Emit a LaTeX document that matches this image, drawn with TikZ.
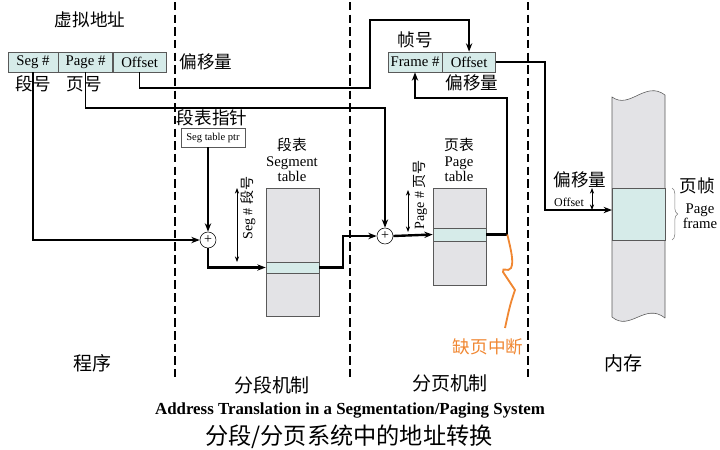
\documentclass[tikz,border=0pt]{standalone}
\usepackage{fontspec}
\setmainfont{Liberation Serif}
\newfontfamily\cjk{Noto Sans CJK SC}
\usetikzlibrary{positioning, arrows.meta, decorations.pathreplacing}

\definecolor{cellcyan}{RGB}{214,235,233}
\definecolor{tablegray}{RGB}{227,227,230}
\definecolor{faultorange}{RGB}{240,135,50}

\tikzset{
  cell/.style={draw=gray!70!black, fill=cellcyan, minimum height=0.5cm, inner sep=0pt, font=\fontsize{10.5}{11}\selectfont},
  tablebox/.style={draw=gray!70!black, fill=tablegray, minimum width=1.325cm, inner sep=0pt},
  rowbox/.style={draw=gray!70!black, fill=cellcyan, minimum width=1.325cm, inner sep=0pt},
  adder/.style={circle, draw, fill=white, minimum size=0.4cm, inner sep=0pt, font=\fontsize{10}{10}\selectfont},
  zh/.style={font=\cjk\fontsize{12.5}{13}\selectfont, inner sep=1pt},
  stage/.style={font=\cjk\fontsize{13.5}{14}\selectfont, inner sep=1pt},
  en/.style={font=\fontsize{10.5}{11}\selectfont, align=center, inner sep=1pt},
  divider/.style={line width=1.4pt, dash pattern=on 6pt off 3pt},
  link/.style={-{Stealth[length=6pt,width=4.5pt]}, line width=0.9pt},
  thicklink/.style={link, line width=1.7pt},
  span/.style={{Stealth[length=4pt,width=3pt]}-{Stealth[length=4pt,width=3pt]}, line width=0.5pt},
}

\begin{document}
\begin{tikzpicture}[x=0.025cm, y=-0.025cm]
  \useasboundingbox (0,0) rectangle (720,449);
  % stage dividers
  \draw[divider] (175,2) -- (175,380);
  \draw[divider] (350,2) -- (350,380);
  \draw[divider] (528,2) -- (528,380);

  % virtual address
  \node[zh] (vaddr) at (90,20) {虚拟地址};
  \node[cell, minimum width=1.25cm] (seg) at (33,62) {Seg \#};
  \node[cell, minimum width=1.35cm, right=0pt of seg] (page) {Page \#};
  \node[cell, minimum width=1.325cm, right=0pt of page] (off) {Offset};
  \node[zh] (segno) at (33,84) {段号};
  \node[zh] (pageno) at (84,84) {页号};
  \node[zh] (offlbl) at (206,62) {偏移量};

  % segmentation
  \node[zh] (ptrlbl) at (212,118) {段表指针};
  \node[draw=gray!70!black, fill=white, minimum width=1.6cm, minimum height=0.475cm, inner sep=0pt, font=\fontsize{7.5}{8}\selectfont] (ptr) at (213,137.5) {Seg table ptr};
  \node[adder] (sum1) at (208,240) {+};
  \node[en] (segtitle) at (292,160) {{\cjk 段表}\\Segment\\table};
  \node[tablebox, minimum height=3.2cm] (segtab) at (292.5,252) {};
  \node[rowbox, minimum height=0.275cm] (segrow) at (292.5,267.5) {};
  \draw[span] (237,188) -- (237,262);
  \node[en, font=\fontsize{10}{11}\selectfont, rotate=90] (seglbl) at (248,208) {Seg \# {\cjk 段号}};

  % paging
  \node[zh] (fnumlbl) at (415,40) {帧号};
  \node[cell, minimum width=1.35cm] (fnum) at (415,62) {Frame \#};
  \node[cell, minimum width=1.325cm, right=0pt of fnum] (foff) {Offset};
  \node[zh] (foffl) at (472,83) {偏移量};
  \node[adder] (sum2) at (385,236) {+};
  \node[en] (pagetitle) at (459,160) {{\cjk 页表}\\Page\\table};
  \node[tablebox, minimum height=2.425cm] (pagetab) at (459.5,236.5) {};
  \node[rowbox, minimum height=0.325cm] (pagerow) at (459.5,234.5) {};
  \draw[span] (408,190) -- (408,232);
  \node[en, font=\fontsize{10}{11}\selectfont, rotate=90] (pagelbl) at (420,195) {Page \# {\cjk 页号}};

  % main memory
  \fill[tablegray] (612,97) .. controls (630,110) and (645,80) .. (665,95) -- (665,318)
    .. controls (645,302) and (630,332) .. (612,317) -- cycle;
  \draw[gray!70!black] (612,317) -- (612,97) .. controls (630,110) and (645,80) .. (665,95) -- (665,318);
  \draw[gray!70!black] (612,317) .. controls (630,332) and (645,302) .. (665,318);
  \node[rowbox, minimum height=1.3cm] (memframe) at (638.5,214) {};
  \coordinate (memin) at (612,210);
  \node[zh] (memoff) at (580,180) {偏移量};
  \node[en, font=\fontsize{8.5}{9}\selectfont] (memofft) at (569,202) {Offset};
  \draw[span] (592,188) -- (592,210);
  \draw[gray, decorate, decoration={brace, amplitude=4pt}] (672,188) -- (672,240);
  \node[zh] (framelbl) at (697,186) {页帧};
  \node[en] (framet) at (700,216) {Page\\frame};

  % connectors
  \draw[link] (seg.south) |- (sum1.west);
  \draw[link] (page.south) |- (sum2.north |- 0,108) -- (sum2.north);
  \draw[link] (off.south) |- (370,88) |- (foff.north |- 0,20) -- (foff.north);
  \draw[thicklink] (ptr.south -| sum1.north) -- (sum1.north);
  \draw[thicklink] (sum1.south) |- (segrow.west);
  \draw[thicklink] (segrow.east) -- ++(24,0) |- (sum2.west);
  \draw[thicklink] (sum2.east) -- (pagerow.west);
  \draw[thicklink] (pagerow.east) -- ++(21,0) coordinate (fault) |- (fnum.south |- 0,98) -- (fnum.south);
  \draw[link] (foff.east) -| (memin -| 545,0) -- (memin);

  % page fault
  \draw[faultorange, line width=1.3pt] (fault) .. controls (511,250) and (514,262) .. (511,268)
    .. controls (508,273) and (502,266) .. (503,272) -- (515,290) .. controls (510,305) .. (505,328);
  \node[zh, text=faultorange] (faultlbl) at (488,347) {缺页中断};

  % stage names and caption
  \node[stage] (prog) at (92,363) {程序};
  \node[stage] (segmech) at (272,385) {分段机制};
  \node[stage] (pagemech) at (450,383) {分页机制};
  \node[stage] (mem) at (623,363) {内存};
  \node[font=\bfseries\fontsize{12}{13}\selectfont] (capen) at (350,410) {Address Translation in a Segmentation/Paging System};
  \node[zh, font=\cjk\fontsize{16.5}{17}\selectfont] (capzh) at (349,437) {分段/分页系统中的地址转换};
\end{tikzpicture}
\end{document}
